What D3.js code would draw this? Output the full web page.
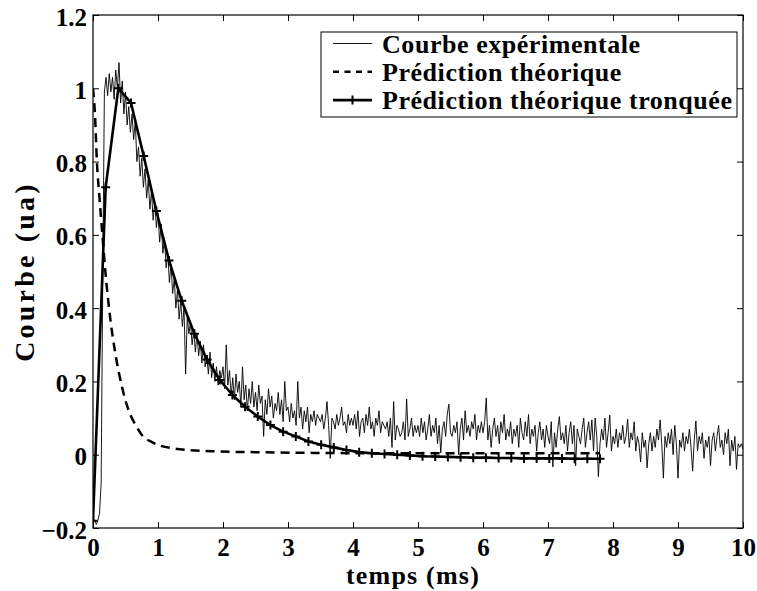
<!DOCTYPE html>
<html>
<head>
<meta charset="utf-8">
<script src="https://cdn.jsdelivr.net/npm/d3@7"></script>
<style>
  body { margin: 0; background: #fff; }
  svg { display: block; font-family: "Liberation Serif", "Times New Roman", serif; font-weight: bold; }
</style>
</head>
<body>
<div id="chart"></div>
<script>
// experimental curve, one sample every 0.025 ms from t = 0 to t = 10
const expStep = 0.025;
const expValues = [
  -0.17, -0.18, -0.19, -0.18, -0.16, -0.08, 0.48, 0.99, 1.03, 0.98, 1.04, 0.99, 1.03, 0.97, 1.05, 1.00, 1.07, 0.96, 1.02, 0.93,
  0.99, 0.90, 0.95, 0.88, 0.93, 0.86, 0.91, 0.80, 0.84, 0.76, 0.81, 0.73, 0.78, 0.70, 0.75, 0.67, 0.72, 0.64, 0.69, 0.62,
  0.66, 0.58, 0.63, 0.55, 0.59, 0.51, 0.55, 0.47, 0.52, 0.44, 0.48, 0.40, 0.45, 0.37, 0.42, 0.35, 0.40, 0.22, 0.38, 0.33,
  0.36, 0.30, 0.34, 0.28, 0.33, 0.27, 0.31, 0.25, 0.30, 0.24, 0.27, 0.22, 0.28, 0.21, 0.25, 0.20, 0.24, 0.19, 0.23, 0.21,
  0.24, 0.18, 0.30, 0.19, 0.23, 0.16, 0.21, 0.15, 0.22, 0.17, 0.20, 0.13, 0.24, 0.15, 0.19, 0.12, 0.18, 0.14, 0.20, 0.13,
  0.17, 0.12, 0.19, 0.14, 0.16, 0.05, 0.15, 0.11, 0.18, 0.13, 0.16, 0.10, 0.14, 0.12, 0.17, 0.11, 0.15, 0.09, 0.20, 0.12,
  0.13, 0.09, 0.14, 0.10, 0.12, 0.08, 0.20, 0.10, 0.13, 0.07, 0.12, 0.09, 0.13, 0.06, 0.11, 0.09, 0.12, 0.08, 0.11, 0.10,
  0.09, 0.11, 0.07, 0.10, 0.145, 0.08, -0.01, 0.10, 0.09, 0.07, 0.11, 0.08, 0.10, 0.13, 0.08, 0.09, 0.06, 0.11, 0.08, 0.10,
  0.08, 0.11, 0.07, 0.12, 0.05, 0.09, 0.10, 0.06, 0.11, 0.08, 0.13, 0.07, 0.09, 0.05, 0.10, 0.08, 0.12, 0.06, 0.09, 0.08,
  0.07, 0.09, 0.05, 0.10, 0.02, 0.145, 0.04, 0.08, 0.07, 0.05, 0.06, 0.09, 0.04, 0.152, 0.05, 0.07, 0.10, 0.05, 0.08, 0.06,
  0.08, 0.05, 0.10, 0.06, 0.09, 0.04, 0.07, 0.11, 0.05, 0.08, 0.06, 0.10, 0.03, 0.08, 0.005, 0.07, 0.09, 0.05, 0.11, 0.138,
  0.06, 0.05, 0.08, 0.06, 0.09, 0.00, 0.07, 0.10, 0.04, 0.12, 0.06, 0.08, 0.05, 0.09, 0.07, 0.11, 0.04, 0.08, 0.06, 0.09,
  0.06, 0.09, 0.155, 0.04, 0.08, 0.02, 0.07, 0.10, 0.05, 0.08, 0.03, 0.09, 0.06, 0.11, 0.04, 0.07, 0.05, 0.09, 0.03, 0.07,
  0.05, 0.08, 0.02, 0.10, 0.06, 0.04, 0.09, 0.05, 0.11, 0.03, 0.07, 0.05, 0.08, 0.01, 0.06, 0.09, 0.04, 0.07, 0.02, 0.08,
  0.05, 0.03, 0.09, -0.033, 0.06, 0.02, 0.07, 0.104, 0.04, 0.06, 0.03, 0.08, 0.01, 0.06, 0.09, 0.03, 0.08, -0.03, 0.07, 0.05,
  0.03, 0.07, 0.10, 0.02, 0.06, 0.09, 0.04, 0.095, 0.01, 0.10, 0.05, -0.06, 0.03, 0.07, 0.04, 0.10, 0.02, 0.06, 0.108, 0.01,
  0.05, 0.03, 0.07, 0.02, 0.06, 0.04, 0.08, 0.03, 0.05, 0.097, 0.02, 0.06, 0.04, 0.09, 0.01, 0.05, 0.03, -0.02, 0.06, 0.02,
  0.04, -0.036, 0.03, 0.06, 0.01, 0.05, 0.02, 0.07, 0.04, 0.095, 0.03, -0.064, 0.05, 0.02, 0.06, 0.03, 0.07, 0.00, 0.08, 0.03,
  -0.064, 0.04, 0.02, 0.06, 0.01, 0.05, 0.03, 0.07, 0.02, -0.045, 0.04, 0.092, 0.01, 0.05, 0.03, 0.06, -0.01, 0.04, 0.02, 0.05,
  -0.03, 0.04, 0.06, 0.01, 0.05, 0.08, 0.02, 0.04, 0.00, 0.06, 0.03, 0.07, -0.03, 0.04, 0.01, 0.05, -0.04, 0.03, 0.02, 0.03,
  0.015
];

// theoretical prediction, [t (ms), value]
const theoPoints = [
  [0, 1.0], [0.03, 0.93], [0.06, 0.8], [0.1, 0.7], [0.14, 0.61], [0.19, 0.5], [0.26, 0.38],
  [0.34, 0.28], [0.44, 0.19], [0.55, 0.12], [0.66, 0.08], [0.77, 0.05], [0.9, 0.035],
  [1.03, 0.025], [1.25, 0.017], [1.45, 0.013], [1.9, 0.009], [2.5, 0.007], [3.4, 0.005],
  [4.5, 0.004], [6, 0.004], [7.8, 0.004]
];

// truncated prediction, one marker every 0.195 ms from t = 0
const truncStep = 0.195;
const truncValues = [
  -0.18, 0.73, 1.0, 0.96, 0.815, 0.665, 0.53, 0.42, 0.33, 0.26, 0.204, 0.163, 0.131, 0.104,
  0.081, 0.063, 0.05, 0.036, 0.027, 0.02, 0.013, 0.007, 0.004, 0.002, 0.0, -0.002, -0.004,
  -0.005, -0.006, -0.007, -0.008, -0.008, -0.009, -0.009, -0.01, -0.01, -0.01, -0.01, -0.011,
  -0.011, -0.011
];

const xTicks = [0, 1, 2, 3, 4, 5, 6, 7, 8, 9, 10];
const yTicks = [-0.2, 0, 0.2, 0.4, 0.6, 0.8, 1, 1.2];
const yTickLabels = ["\u22120.2", "0", "0.2", "0.4", "0.6", "0.8", "1", "1.2"];
const legendLabels = ["Courbe expérimentale", "Prédiction théorique", "Prédiction théorique tronquée"];

const margin = {top: 15, right: 14, bottom: 63, left: 93},
  width = 757 - margin.left - margin.right,
  height = 591 - margin.top - margin.bottom;

const svg = d3.select("#chart")
  .append("svg")
    .attr("width", 757)
    .attr("height", 591)
  .append("g")
    .attr("transform", `translate(${margin.left},${margin.top})`);

const x = d3.scaleLinear().domain([0, 10]).range([0, width]);
const y = d3.scaleLinear().domain([-0.2, 1.2]).range([height, 0]);

const expData = expValues.map((v, i) => [i * expStep, v]);
const truncData = truncValues.map((v, i) => [i * truncStep, v]);

const line = d3.line().x(d => x(d[0])).y(d => y(d[1]));

// clip so nothing spills past the box
svg.append("clipPath").attr("id", "clip")
  .append("rect").attr("width", width).attr("height", height);

const plot = svg.append("g").attr("clip-path", "url(#clip)");

plot.append("path")
  .datum(expData)
  .attr("d", line)
  .attr("fill", "none")
  .attr("stroke", "#000")
  .attr("stroke-width", 0.9);

plot.append("path")
  .datum(theoPoints)
  .attr("d", line.curve(d3.curveMonotoneX))
  .attr("fill", "none")
  .attr("stroke", "#000")
  .attr("stroke-width", 2.5)
  .attr("stroke-dasharray", "9,6");
line.curve(d3.curveLinear);

plot.append("path")
  .datum(truncData)
  .attr("d", line)
  .attr("fill", "none")
  .attr("stroke", "#000")
  .attr("stroke-width", 2.6)
  .attr("stroke-linejoin", "round");

plot.selectAll(".plus")
  .data(truncData)
  .join("path")
    .attr("class", "plus")
    .attr("d", d => `M${x(d[0]) - 4.5},${y(d[1])}h9M${x(d[0])},${y(d[1]) - 4.5}v9`)
    .attr("stroke", "#000")
    .attr("stroke-width", 2);

// axes, MATLAB style: ticks inside on all four sides
const xAxis = svg.append("g")
  .attr("transform", `translate(0,${height})`)
  .call(d3.axisBottom(x).tickValues(xTicks).tickSizeInner(-6).tickSizeOuter(0).tickPadding(11)
    .tickFormat(d3.format("d")));
const yAxis = svg.append("g")
  .call(d3.axisLeft(y).tickValues(yTicks).tickSizeInner(-6).tickSizeOuter(0).tickPadding(6)
    .tickFormat((d, i) => yTickLabels[i]));
svg.append("g")
  .call(d3.axisTop(x).tickValues(xTicks).tickSizeInner(-6).tickSizeOuter(0).tickFormat(""));
svg.append("g")
  .attr("transform", `translate(${width},0)`)
  .call(d3.axisRight(y).tickValues(yTicks).tickSizeInner(-6).tickSizeOuter(0).tickFormat(""));

svg.selectAll(".domain").remove();
svg.selectAll(".tick line").attr("stroke", "#000").attr("stroke-width", 1);
svg.selectAll(".tick text")
  .attr("fill", "#000")
  .style("font-family", "'Liberation Serif', serif")
  .style("font-weight", "bold")
  .style("font-size", "25px");
yAxis.selectAll(".tick text").attr("dy", "0.4em");
xAxis.selectAll(".tick text").attr("dy", "0.68em");

svg.append("rect")
  .attr("width", width)
  .attr("height", height)
  .attr("fill", "none")
  .attr("stroke", "#000")
  .attr("stroke-width", 1.2);

// axis titles
svg.append("text")
  .attr("x", width / 2 - 5)
  .attr("y", height + 56)
  .attr("text-anchor", "middle")
  .style("font-size", "26px")
  .style("letter-spacing", "1.2px")
  .text("temps (ms)");

svg.append("text")
  .attr("transform", `translate(${34 - margin.left},${height / 2}) rotate(-90)`)
  .attr("text-anchor", "middle")
  .style("font-size", "28px")
  .style("letter-spacing", "3.2px")
  .text("Courbe (ua)");

// legend
const legend = svg.append("g")
  .attr("transform", `translate(${321 - margin.left},${32 - margin.top})`);

legend.append("rect")
  .attr("width", 416)
  .attr("height", 85)
  .attr("fill", "#fff")
  .attr("stroke", "#000")
  .attr("stroke-width", 1);

const rowY = i => 11.5 + i * 28.3;

legend.append("line")
  .attr("x1", 12).attr("x2", 51).attr("y1", rowY(0)).attr("y2", rowY(0))
  .attr("stroke", "#000").attr("stroke-width", 0.9);
legend.append("line")
  .attr("x1", 12).attr("x2", 51).attr("y1", rowY(1)).attr("y2", rowY(1))
  .attr("stroke", "#000").attr("stroke-width", 2.5).attr("stroke-dasharray", "6,5.5");
legend.append("line")
  .attr("x1", 12).attr("x2", 51).attr("y1", rowY(2)).attr("y2", rowY(2))
  .attr("stroke", "#000").attr("stroke-width", 2.6);
legend.append("path")
  .attr("d", `M${31.5 - 4.5},${rowY(2)}h9M31.5,${rowY(2) - 4.5}v9`)
  .attr("stroke", "#000").attr("stroke-width", 2);

legend.selectAll(".lab")
  .data(legendLabels)
  .join("text")
    .attr("class", "lab")
    .attr("x", 61)
    .attr("y", (d, i) => rowY(i) + 9)
    .style("font-size", "26px")
    .style("letter-spacing", "0.55px")
    .text(d => d);
</script>
</body>
</html>
